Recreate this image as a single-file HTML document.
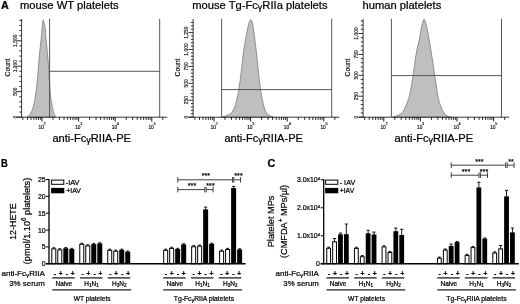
<!DOCTYPE html>
<html lang="en">
<head>
<meta charset="utf-8">
<title>Figure: FcγRIIA platelets</title>
<style>
html,body{margin:0;padding:0;background:#fff;}
body{width:520px;height:304px;overflow:hidden;}
svg{display:block;font-family:'Liberation Sans', Arial, Helvetica, sans-serif;}
text{stroke:#000;stroke-width:0.22px;}
text.s{stroke-width:0.15px;}
</style>
</head>
<body>
<svg width="520" height="304" viewBox="0 0 520 304">
<rect x="0" y="0" width="520" height="304" fill="#fff"/>
<text transform="translate(1 9) scale(1.0487 1)" font-size="10.3" font-weight="bold" fill="#000">A</text>
<path d="M27.1,117.2 C27.43,116.9 28.51,116.07 29.1,115.4 C29.69,114.73 30.07,114.23 30.65,113.2 C31.23,112.17 32.01,110.92 32.6,109.2 C33.19,107.48 33.7,105.27 34.2,102.9 C34.7,100.53 35.1,98.48 35.6,95 C36.1,91.52 36.73,86.5 37.2,82 C37.67,77.5 38.02,72.67 38.4,68 C38.78,63.33 39.05,58.67 39.5,54 C39.95,49.33 40.67,44.37 41.1,40 C41.53,35.63 41.82,30.83 42.1,27.8 C42.38,24.77 42.62,23.15 42.8,21.8 C42.97,20.45 43,19.7 43.15,19.7 C43.3,19.7 43.38,20.45 43.7,21.8 C44.03,23.15 44.7,24.77 45.1,27.8 C45.5,30.83 45.73,35.97 46.1,40 C46.47,44.03 46.9,47.67 47.3,52 C47.7,56.33 48.13,61 48.5,66 C48.87,71 49.18,77.17 49.5,82 C49.82,86.83 50.05,91.52 50.4,95 C50.75,98.48 51.21,100.53 51.6,102.9 C51.99,105.27 52.37,107.48 52.75,109.2 C53.13,110.92 53.56,112.13 53.9,113.2 C54.24,114.27 54.45,114.93 54.8,115.6 C55.15,116.27 55.8,116.93 56,117.2 Z" fill="#bfbfbf" stroke="#858585" stroke-width="0.9" stroke-linejoin="round"/>
<line x1="49.6" y1="18.7" x2="49.6" y2="117.2" stroke="#454545" stroke-width="0.9"/>
<line x1="159.7" y1="18.7" x2="159.7" y2="117.2" stroke="#454545" stroke-width="0.9"/>
<line x1="49.6" y1="71.3" x2="159.7" y2="71.3" stroke="#454545" stroke-width="0.9"/>
<line x1="21.6" y1="19" x2="21.6" y2="117.6" stroke="#222" stroke-width="0.9"/>
<line x1="17.1" y1="117.2" x2="167.3" y2="117.2" stroke="#222" stroke-width="0.9"/>
<line x1="16.9" y1="117.1" x2="21.6" y2="117.1" stroke="#111" stroke-width="0.85"/>
<line x1="19.3" y1="112.01" x2="21.6" y2="112.01" stroke="#111" stroke-width="0.85"/>
<line x1="19.3" y1="106.92" x2="21.6" y2="106.92" stroke="#111" stroke-width="0.85"/>
<line x1="19.3" y1="101.83" x2="21.6" y2="101.83" stroke="#111" stroke-width="0.85"/>
<line x1="19.3" y1="96.74" x2="21.6" y2="96.74" stroke="#111" stroke-width="0.85"/>
<line x1="16.9" y1="91.65" x2="21.6" y2="91.65" stroke="#111" stroke-width="0.85"/>
<line x1="19.3" y1="86.56" x2="21.6" y2="86.56" stroke="#111" stroke-width="0.85"/>
<line x1="19.3" y1="81.47" x2="21.6" y2="81.47" stroke="#111" stroke-width="0.85"/>
<line x1="19.3" y1="76.38" x2="21.6" y2="76.38" stroke="#111" stroke-width="0.85"/>
<line x1="19.3" y1="71.29" x2="21.6" y2="71.29" stroke="#111" stroke-width="0.85"/>
<line x1="16.9" y1="66.2" x2="21.6" y2="66.2" stroke="#111" stroke-width="0.85"/>
<line x1="19.3" y1="61.11" x2="21.6" y2="61.11" stroke="#111" stroke-width="0.85"/>
<line x1="19.3" y1="56.02" x2="21.6" y2="56.02" stroke="#111" stroke-width="0.85"/>
<line x1="19.3" y1="50.93" x2="21.6" y2="50.93" stroke="#111" stroke-width="0.85"/>
<line x1="19.3" y1="45.84" x2="21.6" y2="45.84" stroke="#111" stroke-width="0.85"/>
<line x1="16.9" y1="40.75" x2="21.6" y2="40.75" stroke="#111" stroke-width="0.85"/>
<line x1="19.3" y1="35.66" x2="21.6" y2="35.66" stroke="#111" stroke-width="0.85"/>
<line x1="19.3" y1="30.57" x2="21.6" y2="30.57" stroke="#111" stroke-width="0.85"/>
<line x1="19.3" y1="25.48" x2="21.6" y2="25.48" stroke="#111" stroke-width="0.85"/>
<line x1="19.3" y1="20.39" x2="21.6" y2="20.39" stroke="#111" stroke-width="0.85"/>
<text transform="translate(16.6 117.1) rotate(-90)" font-size="4.9" text-anchor="middle" fill="#111" class="s">0</text>
<text transform="translate(16.6 91.65) rotate(-90)" font-size="4.9" text-anchor="middle" fill="#111" class="s">500</text>
<text transform="translate(16.6 66.2) rotate(-90)" font-size="4.9" text-anchor="middle" fill="#111" class="s">1,000</text>
<text transform="translate(16.6 40.75) rotate(-90)" font-size="4.9" text-anchor="middle" fill="#111" class="s">1,500</text>
<text transform="translate(9.6 67.5) rotate(-90) scale(1.0222 1)" font-size="6.6" text-anchor="middle" fill="#000" class="s">Count</text>
<line x1="22.86" y1="117.2" x2="22.86" y2="119.9" stroke="#000" stroke-width="0.85"/>
<line x1="27.44" y1="117.2" x2="27.44" y2="119.9" stroke="#000" stroke-width="0.85"/>
<line x1="30.98" y1="117.2" x2="30.98" y2="119.9" stroke="#000" stroke-width="0.85"/>
<line x1="33.88" y1="117.2" x2="33.88" y2="119.9" stroke="#000" stroke-width="0.85"/>
<line x1="36.33" y1="117.2" x2="36.33" y2="119.9" stroke="#000" stroke-width="0.85"/>
<line x1="38.45" y1="117.2" x2="38.45" y2="119.9" stroke="#000" stroke-width="0.85"/>
<line x1="40.33" y1="117.2" x2="40.33" y2="119.9" stroke="#000" stroke-width="0.85"/>
<line x1="42" y1="117.2" x2="42" y2="121.5" stroke="#000" stroke-width="0.9"/>
<line x1="53.02" y1="117.2" x2="53.02" y2="119.9" stroke="#000" stroke-width="0.85"/>
<line x1="59.46" y1="117.2" x2="59.46" y2="119.9" stroke="#000" stroke-width="0.85"/>
<line x1="64.04" y1="117.2" x2="64.04" y2="119.9" stroke="#000" stroke-width="0.85"/>
<line x1="67.58" y1="117.2" x2="67.58" y2="119.9" stroke="#000" stroke-width="0.85"/>
<line x1="70.48" y1="117.2" x2="70.48" y2="119.9" stroke="#000" stroke-width="0.85"/>
<line x1="72.93" y1="117.2" x2="72.93" y2="119.9" stroke="#000" stroke-width="0.85"/>
<line x1="75.05" y1="117.2" x2="75.05" y2="119.9" stroke="#000" stroke-width="0.85"/>
<line x1="76.93" y1="117.2" x2="76.93" y2="119.9" stroke="#000" stroke-width="0.85"/>
<line x1="78.6" y1="117.2" x2="78.6" y2="121.5" stroke="#000" stroke-width="0.9"/>
<line x1="89.62" y1="117.2" x2="89.62" y2="119.9" stroke="#000" stroke-width="0.85"/>
<line x1="96.06" y1="117.2" x2="96.06" y2="119.9" stroke="#000" stroke-width="0.85"/>
<line x1="100.64" y1="117.2" x2="100.64" y2="119.9" stroke="#000" stroke-width="0.85"/>
<line x1="104.18" y1="117.2" x2="104.18" y2="119.9" stroke="#000" stroke-width="0.85"/>
<line x1="107.08" y1="117.2" x2="107.08" y2="119.9" stroke="#000" stroke-width="0.85"/>
<line x1="109.53" y1="117.2" x2="109.53" y2="119.9" stroke="#000" stroke-width="0.85"/>
<line x1="111.65" y1="117.2" x2="111.65" y2="119.9" stroke="#000" stroke-width="0.85"/>
<line x1="113.53" y1="117.2" x2="113.53" y2="119.9" stroke="#000" stroke-width="0.85"/>
<line x1="115.2" y1="117.2" x2="115.2" y2="121.5" stroke="#000" stroke-width="0.9"/>
<line x1="126.22" y1="117.2" x2="126.22" y2="119.9" stroke="#000" stroke-width="0.85"/>
<line x1="132.66" y1="117.2" x2="132.66" y2="119.9" stroke="#000" stroke-width="0.85"/>
<line x1="137.24" y1="117.2" x2="137.24" y2="119.9" stroke="#000" stroke-width="0.85"/>
<line x1="140.78" y1="117.2" x2="140.78" y2="119.9" stroke="#000" stroke-width="0.85"/>
<line x1="143.68" y1="117.2" x2="143.68" y2="119.9" stroke="#000" stroke-width="0.85"/>
<line x1="146.13" y1="117.2" x2="146.13" y2="119.9" stroke="#000" stroke-width="0.85"/>
<line x1="148.25" y1="117.2" x2="148.25" y2="119.9" stroke="#000" stroke-width="0.85"/>
<line x1="150.13" y1="117.2" x2="150.13" y2="119.9" stroke="#000" stroke-width="0.85"/>
<line x1="151.8" y1="117.2" x2="151.8" y2="121.5" stroke="#000" stroke-width="0.9"/>
<line x1="162.82" y1="117.2" x2="162.82" y2="119.9" stroke="#000" stroke-width="0.85"/>
<text transform="translate(38.6 128.6)" font-size="4.8" fill="#111" class="s">10</text>
<text transform="translate(43.6 125.4)" font-size="3.8" fill="#111" class="s">2</text>
<text transform="translate(75.2 128.6)" font-size="4.8" fill="#111" class="s">10</text>
<text transform="translate(80.2 125.4)" font-size="3.8" fill="#111" class="s">3</text>
<text transform="translate(111.8 128.6)" font-size="4.8" fill="#111" class="s">10</text>
<text transform="translate(116.8 125.4)" font-size="3.8" fill="#111" class="s">4</text>
<text transform="translate(148.4 128.6)" font-size="4.8" fill="#111" class="s">10</text>
<text transform="translate(153.4 125.4)" font-size="3.8" fill="#111" class="s">5</text>
<text transform="translate(20 9) scale(1.0659 1)" font-size="10.5" fill="#000">mouse WT platelets</text>
<text transform="translate(52.4 141.8) scale(1.0696 1)" font-size="10.4" fill="#000">anti-Fc<tspan font-size="8.4" dy="1.5">γ</tspan><tspan dy="-1.5">RIIA-PE</tspan></text>
<path d="M221.5,117.2 C221.92,117.08 223.08,116.8 224,116.5 C224.92,116.2 225.87,115.9 227,115.4 C228.13,114.9 229.8,114.3 230.8,113.5 C231.8,112.7 232.35,111.72 233,110.6 C233.65,109.48 234.15,108.23 234.7,106.8 C235.25,105.37 235.78,103.97 236.3,102 C236.82,100.03 237.38,97.07 237.8,95 C238.22,92.93 238.27,93.1 238.8,89.6 C239.33,86.1 240.3,79.6 241,74 C241.7,68.4 242.47,60.33 243,56 C243.53,51.67 243.62,51.67 244.2,48 C244.78,44.33 245.73,38 246.5,34 C247.27,30 248.1,26.38 248.8,24 C249.5,21.62 250.07,19.7 250.7,19.7 C251.33,19.7 251.95,20.95 252.6,24 C253.25,27.05 253.9,32.67 254.6,38 C255.3,43.33 256.13,50 256.8,56 C257.47,62 257.97,68.4 258.6,74 C259.23,79.6 260.13,86.1 260.6,89.6 C261.07,93.1 261,92.78 261.4,95 C261.8,97.22 262.33,100.27 263,102.9 C263.67,105.53 264.73,109.07 265.4,110.8 C266.07,112.53 266.48,112.63 267,113.3 C267.52,113.97 267.92,114.33 268.5,114.8 C269.08,115.27 269.67,115.7 270.5,116.1 C271.33,116.5 273,117.02 273.5,117.2 Z" fill="#bfbfbf" stroke="#858585" stroke-width="0.9" stroke-linejoin="round"/>
<line x1="221.6" y1="18.7" x2="221.6" y2="117.2" stroke="#454545" stroke-width="0.9"/>
<line x1="331.7" y1="18.7" x2="331.7" y2="117.2" stroke="#454545" stroke-width="0.9"/>
<line x1="221.6" y1="89.6" x2="331.7" y2="89.6" stroke="#454545" stroke-width="0.9"/>
<line x1="193.15" y1="19" x2="193.15" y2="117.6" stroke="#222" stroke-width="0.9"/>
<line x1="188.65" y1="117.2" x2="339.3" y2="117.2" stroke="#222" stroke-width="0.9"/>
<line x1="188.45" y1="117.1" x2="193.15" y2="117.1" stroke="#111" stroke-width="0.85"/>
<line x1="190.85" y1="113.72" x2="193.15" y2="113.72" stroke="#111" stroke-width="0.85"/>
<line x1="190.85" y1="110.34" x2="193.15" y2="110.34" stroke="#111" stroke-width="0.85"/>
<line x1="190.85" y1="106.96" x2="193.15" y2="106.96" stroke="#111" stroke-width="0.85"/>
<line x1="190.85" y1="103.58" x2="193.15" y2="103.58" stroke="#111" stroke-width="0.85"/>
<line x1="188.45" y1="100.2" x2="193.15" y2="100.2" stroke="#111" stroke-width="0.85"/>
<line x1="190.85" y1="96.82" x2="193.15" y2="96.82" stroke="#111" stroke-width="0.85"/>
<line x1="190.85" y1="93.44" x2="193.15" y2="93.44" stroke="#111" stroke-width="0.85"/>
<line x1="190.85" y1="90.06" x2="193.15" y2="90.06" stroke="#111" stroke-width="0.85"/>
<line x1="190.85" y1="86.68" x2="193.15" y2="86.68" stroke="#111" stroke-width="0.85"/>
<line x1="188.45" y1="83.3" x2="193.15" y2="83.3" stroke="#111" stroke-width="0.85"/>
<line x1="190.85" y1="79.92" x2="193.15" y2="79.92" stroke="#111" stroke-width="0.85"/>
<line x1="190.85" y1="76.54" x2="193.15" y2="76.54" stroke="#111" stroke-width="0.85"/>
<line x1="190.85" y1="73.16" x2="193.15" y2="73.16" stroke="#111" stroke-width="0.85"/>
<line x1="190.85" y1="69.78" x2="193.15" y2="69.78" stroke="#111" stroke-width="0.85"/>
<line x1="188.45" y1="66.4" x2="193.15" y2="66.4" stroke="#111" stroke-width="0.85"/>
<line x1="190.85" y1="63.02" x2="193.15" y2="63.02" stroke="#111" stroke-width="0.85"/>
<line x1="190.85" y1="59.64" x2="193.15" y2="59.64" stroke="#111" stroke-width="0.85"/>
<line x1="190.85" y1="56.26" x2="193.15" y2="56.26" stroke="#111" stroke-width="0.85"/>
<line x1="190.85" y1="52.88" x2="193.15" y2="52.88" stroke="#111" stroke-width="0.85"/>
<line x1="188.45" y1="49.5" x2="193.15" y2="49.5" stroke="#111" stroke-width="0.85"/>
<line x1="190.85" y1="46.12" x2="193.15" y2="46.12" stroke="#111" stroke-width="0.85"/>
<line x1="190.85" y1="42.74" x2="193.15" y2="42.74" stroke="#111" stroke-width="0.85"/>
<line x1="190.85" y1="39.36" x2="193.15" y2="39.36" stroke="#111" stroke-width="0.85"/>
<line x1="190.85" y1="35.98" x2="193.15" y2="35.98" stroke="#111" stroke-width="0.85"/>
<line x1="188.45" y1="32.6" x2="193.15" y2="32.6" stroke="#111" stroke-width="0.85"/>
<line x1="190.85" y1="29.22" x2="193.15" y2="29.22" stroke="#111" stroke-width="0.85"/>
<line x1="190.85" y1="25.84" x2="193.15" y2="25.84" stroke="#111" stroke-width="0.85"/>
<line x1="190.85" y1="22.46" x2="193.15" y2="22.46" stroke="#111" stroke-width="0.85"/>
<text transform="translate(188.15 117.1) rotate(-90)" font-size="4.9" text-anchor="middle" fill="#111" class="s">0</text>
<text transform="translate(188.15 100.2) rotate(-90)" font-size="4.9" text-anchor="middle" fill="#111" class="s">250</text>
<text transform="translate(188.15 83.3) rotate(-90)" font-size="4.9" text-anchor="middle" fill="#111" class="s">500</text>
<text transform="translate(188.15 66.4) rotate(-90)" font-size="4.9" text-anchor="middle" fill="#111" class="s">750</text>
<text transform="translate(188.15 49.5) rotate(-90)" font-size="4.9" text-anchor="middle" fill="#111" class="s">1,000</text>
<text transform="translate(188.15 32.6) rotate(-90)" font-size="4.9" text-anchor="middle" fill="#111" class="s">1,250</text>
<text transform="translate(179.6 67.5) rotate(-90) scale(1.0222 1)" font-size="6.6" text-anchor="middle" fill="#000" class="s">Count</text>
<line x1="194.86" y1="117.2" x2="194.86" y2="119.9" stroke="#000" stroke-width="0.85"/>
<line x1="199.44" y1="117.2" x2="199.44" y2="119.9" stroke="#000" stroke-width="0.85"/>
<line x1="202.98" y1="117.2" x2="202.98" y2="119.9" stroke="#000" stroke-width="0.85"/>
<line x1="205.88" y1="117.2" x2="205.88" y2="119.9" stroke="#000" stroke-width="0.85"/>
<line x1="208.33" y1="117.2" x2="208.33" y2="119.9" stroke="#000" stroke-width="0.85"/>
<line x1="210.45" y1="117.2" x2="210.45" y2="119.9" stroke="#000" stroke-width="0.85"/>
<line x1="212.33" y1="117.2" x2="212.33" y2="119.9" stroke="#000" stroke-width="0.85"/>
<line x1="214" y1="117.2" x2="214" y2="121.5" stroke="#000" stroke-width="0.9"/>
<line x1="225.02" y1="117.2" x2="225.02" y2="119.9" stroke="#000" stroke-width="0.85"/>
<line x1="231.46" y1="117.2" x2="231.46" y2="119.9" stroke="#000" stroke-width="0.85"/>
<line x1="236.04" y1="117.2" x2="236.04" y2="119.9" stroke="#000" stroke-width="0.85"/>
<line x1="239.58" y1="117.2" x2="239.58" y2="119.9" stroke="#000" stroke-width="0.85"/>
<line x1="242.48" y1="117.2" x2="242.48" y2="119.9" stroke="#000" stroke-width="0.85"/>
<line x1="244.93" y1="117.2" x2="244.93" y2="119.9" stroke="#000" stroke-width="0.85"/>
<line x1="247.05" y1="117.2" x2="247.05" y2="119.9" stroke="#000" stroke-width="0.85"/>
<line x1="248.93" y1="117.2" x2="248.93" y2="119.9" stroke="#000" stroke-width="0.85"/>
<line x1="250.6" y1="117.2" x2="250.6" y2="121.5" stroke="#000" stroke-width="0.9"/>
<line x1="261.62" y1="117.2" x2="261.62" y2="119.9" stroke="#000" stroke-width="0.85"/>
<line x1="268.06" y1="117.2" x2="268.06" y2="119.9" stroke="#000" stroke-width="0.85"/>
<line x1="272.64" y1="117.2" x2="272.64" y2="119.9" stroke="#000" stroke-width="0.85"/>
<line x1="276.18" y1="117.2" x2="276.18" y2="119.9" stroke="#000" stroke-width="0.85"/>
<line x1="279.08" y1="117.2" x2="279.08" y2="119.9" stroke="#000" stroke-width="0.85"/>
<line x1="281.53" y1="117.2" x2="281.53" y2="119.9" stroke="#000" stroke-width="0.85"/>
<line x1="283.65" y1="117.2" x2="283.65" y2="119.9" stroke="#000" stroke-width="0.85"/>
<line x1="285.53" y1="117.2" x2="285.53" y2="119.9" stroke="#000" stroke-width="0.85"/>
<line x1="287.2" y1="117.2" x2="287.2" y2="121.5" stroke="#000" stroke-width="0.9"/>
<line x1="298.22" y1="117.2" x2="298.22" y2="119.9" stroke="#000" stroke-width="0.85"/>
<line x1="304.66" y1="117.2" x2="304.66" y2="119.9" stroke="#000" stroke-width="0.85"/>
<line x1="309.24" y1="117.2" x2="309.24" y2="119.9" stroke="#000" stroke-width="0.85"/>
<line x1="312.78" y1="117.2" x2="312.78" y2="119.9" stroke="#000" stroke-width="0.85"/>
<line x1="315.68" y1="117.2" x2="315.68" y2="119.9" stroke="#000" stroke-width="0.85"/>
<line x1="318.13" y1="117.2" x2="318.13" y2="119.9" stroke="#000" stroke-width="0.85"/>
<line x1="320.25" y1="117.2" x2="320.25" y2="119.9" stroke="#000" stroke-width="0.85"/>
<line x1="322.13" y1="117.2" x2="322.13" y2="119.9" stroke="#000" stroke-width="0.85"/>
<line x1="323.8" y1="117.2" x2="323.8" y2="121.5" stroke="#000" stroke-width="0.9"/>
<line x1="334.82" y1="117.2" x2="334.82" y2="119.9" stroke="#000" stroke-width="0.85"/>
<text transform="translate(210.6 128.6)" font-size="4.8" fill="#111" class="s">10</text>
<text transform="translate(215.6 125.4)" font-size="3.8" fill="#111" class="s">2</text>
<text transform="translate(247.2 128.6)" font-size="4.8" fill="#111" class="s">10</text>
<text transform="translate(252.2 125.4)" font-size="3.8" fill="#111" class="s">3</text>
<text transform="translate(283.8 128.6)" font-size="4.8" fill="#111" class="s">10</text>
<text transform="translate(288.8 125.4)" font-size="3.8" fill="#111" class="s">4</text>
<text transform="translate(320.4 128.6)" font-size="4.8" fill="#111" class="s">10</text>
<text transform="translate(325.4 125.4)" font-size="3.8" fill="#111" class="s">5</text>
<text transform="translate(192.3 9) scale(1.0643 1)" font-size="10.5" fill="#000">mouse Tg-Fc<tspan font-size="8.5" dy="1.4">γ</tspan><tspan dy="-1.4">RIIa platelets</tspan></text>
<text transform="translate(224.4 141.8) scale(1.0696 1)" font-size="10.4" fill="#000">anti-Fc<tspan font-size="8.4" dy="1.5">γ</tspan><tspan dy="-1.5">RIIA-PE</tspan></text>
<path d="M392.5,117.2 C393.22,116.98 395.42,116.45 396.8,115.9 C398.18,115.35 399.68,114.75 400.8,113.9 C401.92,113.05 402.45,112.63 403.5,110.8 C404.55,108.97 406.07,105.53 407.1,102.9 C408.13,100.27 408.88,98.48 409.7,95 C410.52,91.52 411.43,85.23 412,82 C412.57,78.77 412.6,78.93 413.1,75.6 C413.6,72.27 414.37,66.27 415,62 C415.63,57.73 416.18,53.67 416.9,50 C417.62,46.33 418.55,43.67 419.3,40 C420.05,36.33 420.8,31 421.4,28 C422,25 422.45,23.47 422.9,22 C423.35,20.53 423.7,19.2 424.1,19.2 C424.5,19.2 424.83,20.53 425.3,22 C425.77,23.47 426.25,25 426.9,28 C427.55,31 428.55,36.33 429.2,40 C429.85,43.67 430.2,46.33 430.8,50 C431.4,53.67 432.15,57.73 432.8,62 C433.45,66.27 434.2,72.27 434.7,75.6 C435.2,78.93 435.3,78.77 435.8,82 C436.3,85.23 437.07,91.52 437.7,95 C438.33,98.48 438.75,100.27 439.6,102.9 C440.45,105.53 441.82,108.83 442.8,110.8 C443.78,112.77 444.63,113.78 445.5,114.7 C446.37,115.62 447.08,115.88 448,116.3 C448.92,116.72 450.5,117.05 451,117.2 Z" fill="#bfbfbf" stroke="#858585" stroke-width="0.9" stroke-linejoin="round"/>
<line x1="391.4" y1="18.7" x2="391.4" y2="117.2" stroke="#454545" stroke-width="0.9"/>
<line x1="501.5" y1="18.7" x2="501.5" y2="117.2" stroke="#454545" stroke-width="0.9"/>
<line x1="391.4" y1="75.6" x2="501.5" y2="75.6" stroke="#454545" stroke-width="0.9"/>
<line x1="363.1" y1="19" x2="363.1" y2="117.6" stroke="#222" stroke-width="0.9"/>
<line x1="358.6" y1="117.2" x2="509.1" y2="117.2" stroke="#222" stroke-width="0.9"/>
<line x1="358.4" y1="117.1" x2="363.1" y2="117.1" stroke="#111" stroke-width="0.85"/>
<line x1="360.8" y1="112.92" x2="363.1" y2="112.92" stroke="#111" stroke-width="0.85"/>
<line x1="360.8" y1="108.74" x2="363.1" y2="108.74" stroke="#111" stroke-width="0.85"/>
<line x1="360.8" y1="104.56" x2="363.1" y2="104.56" stroke="#111" stroke-width="0.85"/>
<line x1="360.8" y1="100.38" x2="363.1" y2="100.38" stroke="#111" stroke-width="0.85"/>
<line x1="358.4" y1="96.2" x2="363.1" y2="96.2" stroke="#111" stroke-width="0.85"/>
<line x1="360.8" y1="92.02" x2="363.1" y2="92.02" stroke="#111" stroke-width="0.85"/>
<line x1="360.8" y1="87.84" x2="363.1" y2="87.84" stroke="#111" stroke-width="0.85"/>
<line x1="360.8" y1="83.66" x2="363.1" y2="83.66" stroke="#111" stroke-width="0.85"/>
<line x1="360.8" y1="79.48" x2="363.1" y2="79.48" stroke="#111" stroke-width="0.85"/>
<line x1="358.4" y1="75.3" x2="363.1" y2="75.3" stroke="#111" stroke-width="0.85"/>
<line x1="360.8" y1="71.12" x2="363.1" y2="71.12" stroke="#111" stroke-width="0.85"/>
<line x1="360.8" y1="66.94" x2="363.1" y2="66.94" stroke="#111" stroke-width="0.85"/>
<line x1="360.8" y1="62.76" x2="363.1" y2="62.76" stroke="#111" stroke-width="0.85"/>
<line x1="360.8" y1="58.58" x2="363.1" y2="58.58" stroke="#111" stroke-width="0.85"/>
<line x1="358.4" y1="54.4" x2="363.1" y2="54.4" stroke="#111" stroke-width="0.85"/>
<line x1="360.8" y1="50.22" x2="363.1" y2="50.22" stroke="#111" stroke-width="0.85"/>
<line x1="360.8" y1="46.04" x2="363.1" y2="46.04" stroke="#111" stroke-width="0.85"/>
<line x1="360.8" y1="41.86" x2="363.1" y2="41.86" stroke="#111" stroke-width="0.85"/>
<line x1="360.8" y1="37.68" x2="363.1" y2="37.68" stroke="#111" stroke-width="0.85"/>
<line x1="358.4" y1="33.5" x2="363.1" y2="33.5" stroke="#111" stroke-width="0.85"/>
<line x1="360.8" y1="29.32" x2="363.1" y2="29.32" stroke="#111" stroke-width="0.85"/>
<line x1="360.8" y1="25.14" x2="363.1" y2="25.14" stroke="#111" stroke-width="0.85"/>
<line x1="360.8" y1="20.96" x2="363.1" y2="20.96" stroke="#111" stroke-width="0.85"/>
<text transform="translate(358.1 117.1) rotate(-90)" font-size="4.9" text-anchor="middle" fill="#111" class="s">0</text>
<text transform="translate(358.1 96.2) rotate(-90)" font-size="4.9" text-anchor="middle" fill="#111" class="s">250</text>
<text transform="translate(358.1 75.3) rotate(-90)" font-size="4.9" text-anchor="middle" fill="#111" class="s">500</text>
<text transform="translate(358.1 54.4) rotate(-90)" font-size="4.9" text-anchor="middle" fill="#111" class="s">750</text>
<text transform="translate(358.1 33.5) rotate(-90)" font-size="4.9" text-anchor="middle" fill="#111" class="s">1,000</text>
<text transform="translate(349.6 67.5) rotate(-90) scale(1.0222 1)" font-size="6.6" text-anchor="middle" fill="#000" class="s">Count</text>
<line x1="364.66" y1="117.2" x2="364.66" y2="119.9" stroke="#000" stroke-width="0.85"/>
<line x1="369.24" y1="117.2" x2="369.24" y2="119.9" stroke="#000" stroke-width="0.85"/>
<line x1="372.78" y1="117.2" x2="372.78" y2="119.9" stroke="#000" stroke-width="0.85"/>
<line x1="375.68" y1="117.2" x2="375.68" y2="119.9" stroke="#000" stroke-width="0.85"/>
<line x1="378.13" y1="117.2" x2="378.13" y2="119.9" stroke="#000" stroke-width="0.85"/>
<line x1="380.25" y1="117.2" x2="380.25" y2="119.9" stroke="#000" stroke-width="0.85"/>
<line x1="382.13" y1="117.2" x2="382.13" y2="119.9" stroke="#000" stroke-width="0.85"/>
<line x1="383.8" y1="117.2" x2="383.8" y2="121.5" stroke="#000" stroke-width="0.9"/>
<line x1="394.82" y1="117.2" x2="394.82" y2="119.9" stroke="#000" stroke-width="0.85"/>
<line x1="401.26" y1="117.2" x2="401.26" y2="119.9" stroke="#000" stroke-width="0.85"/>
<line x1="405.84" y1="117.2" x2="405.84" y2="119.9" stroke="#000" stroke-width="0.85"/>
<line x1="409.38" y1="117.2" x2="409.38" y2="119.9" stroke="#000" stroke-width="0.85"/>
<line x1="412.28" y1="117.2" x2="412.28" y2="119.9" stroke="#000" stroke-width="0.85"/>
<line x1="414.73" y1="117.2" x2="414.73" y2="119.9" stroke="#000" stroke-width="0.85"/>
<line x1="416.85" y1="117.2" x2="416.85" y2="119.9" stroke="#000" stroke-width="0.85"/>
<line x1="418.73" y1="117.2" x2="418.73" y2="119.9" stroke="#000" stroke-width="0.85"/>
<line x1="420.4" y1="117.2" x2="420.4" y2="121.5" stroke="#000" stroke-width="0.9"/>
<line x1="431.42" y1="117.2" x2="431.42" y2="119.9" stroke="#000" stroke-width="0.85"/>
<line x1="437.86" y1="117.2" x2="437.86" y2="119.9" stroke="#000" stroke-width="0.85"/>
<line x1="442.44" y1="117.2" x2="442.44" y2="119.9" stroke="#000" stroke-width="0.85"/>
<line x1="445.98" y1="117.2" x2="445.98" y2="119.9" stroke="#000" stroke-width="0.85"/>
<line x1="448.88" y1="117.2" x2="448.88" y2="119.9" stroke="#000" stroke-width="0.85"/>
<line x1="451.33" y1="117.2" x2="451.33" y2="119.9" stroke="#000" stroke-width="0.85"/>
<line x1="453.45" y1="117.2" x2="453.45" y2="119.9" stroke="#000" stroke-width="0.85"/>
<line x1="455.33" y1="117.2" x2="455.33" y2="119.9" stroke="#000" stroke-width="0.85"/>
<line x1="457" y1="117.2" x2="457" y2="121.5" stroke="#000" stroke-width="0.9"/>
<line x1="468.02" y1="117.2" x2="468.02" y2="119.9" stroke="#000" stroke-width="0.85"/>
<line x1="474.46" y1="117.2" x2="474.46" y2="119.9" stroke="#000" stroke-width="0.85"/>
<line x1="479.04" y1="117.2" x2="479.04" y2="119.9" stroke="#000" stroke-width="0.85"/>
<line x1="482.58" y1="117.2" x2="482.58" y2="119.9" stroke="#000" stroke-width="0.85"/>
<line x1="485.48" y1="117.2" x2="485.48" y2="119.9" stroke="#000" stroke-width="0.85"/>
<line x1="487.93" y1="117.2" x2="487.93" y2="119.9" stroke="#000" stroke-width="0.85"/>
<line x1="490.05" y1="117.2" x2="490.05" y2="119.9" stroke="#000" stroke-width="0.85"/>
<line x1="491.93" y1="117.2" x2="491.93" y2="119.9" stroke="#000" stroke-width="0.85"/>
<line x1="493.6" y1="117.2" x2="493.6" y2="121.5" stroke="#000" stroke-width="0.9"/>
<line x1="504.62" y1="117.2" x2="504.62" y2="119.9" stroke="#000" stroke-width="0.85"/>
<text transform="translate(380.4 128.6)" font-size="4.8" fill="#111" class="s">10</text>
<text transform="translate(385.4 125.4)" font-size="3.8" fill="#111" class="s">2</text>
<text transform="translate(417 128.6)" font-size="4.8" fill="#111" class="s">10</text>
<text transform="translate(422 125.4)" font-size="3.8" fill="#111" class="s">3</text>
<text transform="translate(453.6 128.6)" font-size="4.8" fill="#111" class="s">10</text>
<text transform="translate(458.6 125.4)" font-size="3.8" fill="#111" class="s">4</text>
<text transform="translate(490.2 128.6)" font-size="4.8" fill="#111" class="s">10</text>
<text transform="translate(495.2 125.4)" font-size="3.8" fill="#111" class="s">5</text>
<text transform="translate(362.5 9) scale(1.0628 1)" font-size="10.5" fill="#000">human platelets</text>
<text transform="translate(394.6 141.8) scale(1.0696 1)" font-size="10.4" fill="#000">anti-Fc<tspan font-size="8.4" dy="1.5">γ</tspan><tspan dy="-1.5">RIIA-PE</tspan></text>
<line x1="53.8" y1="247.75" x2="53.8" y2="248.9" stroke="#000" stroke-width="0.9"/>
<line x1="52.4" y1="247.75" x2="55.2" y2="247.75" stroke="#000" stroke-width="0.9"/>
<rect x="51.8" y="248.9" width="4" height="14.85" fill="#fff" stroke="#000" stroke-width="1"/>
<line x1="59.8" y1="248.75" x2="59.8" y2="249.9" stroke="#000" stroke-width="0.9"/>
<line x1="58.4" y1="248.75" x2="61.2" y2="248.75" stroke="#000" stroke-width="0.9"/>
<rect x="57.8" y="249.9" width="4" height="13.85" fill="#fff" stroke="#000" stroke-width="1"/>
<line x1="65.8" y1="247.55" x2="65.8" y2="248.7" stroke="#000" stroke-width="0.9"/>
<line x1="64.4" y1="247.55" x2="67.2" y2="247.55" stroke="#000" stroke-width="0.9"/>
<rect x="63.3" y="248.2" width="5" height="15.55" fill="#000"/>
<line x1="71.8" y1="248.35" x2="71.8" y2="249.5" stroke="#000" stroke-width="0.9"/>
<line x1="70.4" y1="248.35" x2="73.2" y2="248.35" stroke="#000" stroke-width="0.9"/>
<rect x="69.3" y="249" width="5" height="14.75" fill="#000"/>
<line x1="81.77" y1="243.15" x2="81.77" y2="244.3" stroke="#000" stroke-width="0.9"/>
<line x1="80.37" y1="243.15" x2="83.17" y2="243.15" stroke="#000" stroke-width="0.9"/>
<rect x="79.77" y="244.3" width="4" height="19.45" fill="#fff" stroke="#000" stroke-width="1"/>
<line x1="87.77" y1="244.75" x2="87.77" y2="245.9" stroke="#000" stroke-width="0.9"/>
<line x1="86.37" y1="244.75" x2="89.17" y2="244.75" stroke="#000" stroke-width="0.9"/>
<rect x="85.77" y="245.9" width="4" height="17.85" fill="#fff" stroke="#000" stroke-width="1"/>
<line x1="93.77" y1="243.55" x2="93.77" y2="244.7" stroke="#000" stroke-width="0.9"/>
<line x1="92.37" y1="243.55" x2="95.17" y2="243.55" stroke="#000" stroke-width="0.9"/>
<rect x="91.27" y="244.2" width="5" height="19.55" fill="#000"/>
<line x1="99.77" y1="242.75" x2="99.77" y2="243.9" stroke="#000" stroke-width="0.9"/>
<line x1="98.37" y1="242.75" x2="101.17" y2="242.75" stroke="#000" stroke-width="0.9"/>
<rect x="97.27" y="243.4" width="5" height="20.35" fill="#000"/>
<line x1="109.74" y1="249.15" x2="109.74" y2="250.3" stroke="#000" stroke-width="0.9"/>
<line x1="108.34" y1="249.15" x2="111.14" y2="249.15" stroke="#000" stroke-width="0.9"/>
<rect x="107.74" y="250.3" width="4" height="13.45" fill="#fff" stroke="#000" stroke-width="1"/>
<line x1="115.74" y1="250.05" x2="115.74" y2="251.2" stroke="#000" stroke-width="0.9"/>
<line x1="114.34" y1="250.05" x2="117.14" y2="250.05" stroke="#000" stroke-width="0.9"/>
<rect x="113.74" y="251.2" width="4" height="12.55" fill="#fff" stroke="#000" stroke-width="1"/>
<line x1="121.74" y1="249.15" x2="121.74" y2="250.3" stroke="#000" stroke-width="0.9"/>
<line x1="120.34" y1="249.15" x2="123.14" y2="249.15" stroke="#000" stroke-width="0.9"/>
<rect x="119.24" y="249.8" width="5" height="13.95" fill="#000"/>
<line x1="127.74" y1="251.05" x2="127.74" y2="252.2" stroke="#000" stroke-width="0.9"/>
<line x1="126.34" y1="251.05" x2="129.14" y2="251.05" stroke="#000" stroke-width="0.9"/>
<rect x="125.24" y="251.7" width="5" height="12.05" fill="#000"/>
<line x1="165.68" y1="249.15" x2="165.68" y2="250.3" stroke="#000" stroke-width="0.9"/>
<line x1="164.28" y1="249.15" x2="167.08" y2="249.15" stroke="#000" stroke-width="0.9"/>
<rect x="163.68" y="250.3" width="4" height="13.45" fill="#fff" stroke="#000" stroke-width="1"/>
<line x1="171.68" y1="247.25" x2="171.68" y2="248.4" stroke="#000" stroke-width="0.9"/>
<line x1="170.28" y1="247.25" x2="173.08" y2="247.25" stroke="#000" stroke-width="0.9"/>
<rect x="169.68" y="248.4" width="4" height="15.35" fill="#fff" stroke="#000" stroke-width="1"/>
<line x1="177.68" y1="248.35" x2="177.68" y2="249.5" stroke="#000" stroke-width="0.9"/>
<line x1="176.28" y1="248.35" x2="179.08" y2="248.35" stroke="#000" stroke-width="0.9"/>
<rect x="175.18" y="249" width="5" height="14.75" fill="#000"/>
<line x1="183.68" y1="243.75" x2="183.68" y2="244.9" stroke="#000" stroke-width="0.9"/>
<line x1="182.28" y1="243.75" x2="185.08" y2="243.75" stroke="#000" stroke-width="0.9"/>
<rect x="181.18" y="244.4" width="5" height="19.35" fill="#000"/>
<line x1="193.65" y1="245.65" x2="193.65" y2="246.8" stroke="#000" stroke-width="0.9"/>
<line x1="192.25" y1="245.65" x2="195.05" y2="245.65" stroke="#000" stroke-width="0.9"/>
<rect x="191.65" y="246.8" width="4" height="16.95" fill="#fff" stroke="#000" stroke-width="1"/>
<line x1="199.65" y1="245.05" x2="199.65" y2="246.2" stroke="#000" stroke-width="0.9"/>
<line x1="198.25" y1="245.05" x2="201.05" y2="245.05" stroke="#000" stroke-width="0.9"/>
<rect x="197.65" y="246.2" width="4" height="17.55" fill="#fff" stroke="#000" stroke-width="1"/>
<line x1="205.65" y1="207.1" x2="205.65" y2="209.9" stroke="#000" stroke-width="0.9"/>
<line x1="204.05" y1="207.1" x2="207.25" y2="207.1" stroke="#000" stroke-width="0.9"/>
<rect x="203.15" y="209.4" width="5" height="54.35" fill="#000"/>
<line x1="211.65" y1="243.15" x2="211.65" y2="244.3" stroke="#000" stroke-width="0.9"/>
<line x1="210.25" y1="243.15" x2="213.05" y2="243.15" stroke="#000" stroke-width="0.9"/>
<rect x="209.15" y="243.8" width="5" height="19.95" fill="#000"/>
<line x1="221.62" y1="250.05" x2="221.62" y2="251.2" stroke="#000" stroke-width="0.9"/>
<line x1="220.22" y1="250.05" x2="223.02" y2="250.05" stroke="#000" stroke-width="0.9"/>
<rect x="219.62" y="251.2" width="4" height="12.55" fill="#fff" stroke="#000" stroke-width="1"/>
<line x1="227.62" y1="248.35" x2="227.62" y2="249.5" stroke="#000" stroke-width="0.9"/>
<line x1="226.22" y1="248.35" x2="229.02" y2="248.35" stroke="#000" stroke-width="0.9"/>
<rect x="225.62" y="249.5" width="4" height="14.25" fill="#fff" stroke="#000" stroke-width="1"/>
<line x1="233.62" y1="186.5" x2="233.62" y2="188.6" stroke="#000" stroke-width="0.9"/>
<line x1="232.02" y1="186.5" x2="235.22" y2="186.5" stroke="#000" stroke-width="0.9"/>
<rect x="231.12" y="188.1" width="5" height="75.65" fill="#000"/>
<line x1="239.62" y1="248.75" x2="239.62" y2="249.9" stroke="#000" stroke-width="0.9"/>
<line x1="238.22" y1="248.75" x2="241.02" y2="248.75" stroke="#000" stroke-width="0.9"/>
<rect x="237.12" y="249.4" width="5" height="14.35" fill="#000"/>
<line x1="49" y1="179.1" x2="49" y2="264.35" stroke="#000" stroke-width="1.3"/>
<line x1="46" y1="263.75" x2="245.6" y2="263.75" stroke="#000" stroke-width="1.3"/>
<line x1="46" y1="263.75" x2="49" y2="263.75" stroke="#000" stroke-width="1"/>
<text transform="translate(45.7 266.2)" font-size="6.9" text-anchor="end" fill="#000">0</text>
<line x1="46" y1="246.9" x2="49" y2="246.9" stroke="#000" stroke-width="1"/>
<text transform="translate(45.7 249.35)" font-size="6.9" text-anchor="end" fill="#000">5</text>
<line x1="46" y1="230.05" x2="49" y2="230.05" stroke="#000" stroke-width="1"/>
<text transform="translate(45.7 232.5)" font-size="6.9" text-anchor="end" fill="#000">10</text>
<line x1="46" y1="213.2" x2="49" y2="213.2" stroke="#000" stroke-width="1"/>
<text transform="translate(45.7 215.65)" font-size="6.9" text-anchor="end" fill="#000">15</text>
<line x1="46" y1="196.35" x2="49" y2="196.35" stroke="#000" stroke-width="1"/>
<text transform="translate(45.7 198.8)" font-size="6.9" text-anchor="end" fill="#000">20</text>
<line x1="46" y1="179.5" x2="49" y2="179.5" stroke="#000" stroke-width="1"/>
<text transform="translate(45.7 181.95)" font-size="6.9" text-anchor="end" fill="#000">25</text>
<rect x="51.6" y="180.1" width="12.2" height="4.2" fill="#fff" stroke="#000" stroke-width="1"/>
<rect x="51.1" y="187.9" width="13.2" height="5.4" fill="#000"/>
<text transform="translate(65.7 184.5) scale(1.0850 1)" font-size="6.8" fill="#000">-IAV</text>
<text transform="translate(66.3 193.1) scale(1.0124 1)" font-size="6.8" fill="#000">+IAV</text>
<line x1="177.8" y1="179.8" x2="232.5" y2="179.8" stroke="#2b2b2b" stroke-width="0.9"/>
<line x1="177.8" y1="177" x2="177.8" y2="182.6" stroke="#2b2b2b" stroke-width="0.9"/>
<line x1="232.5" y1="177" x2="232.5" y2="182.6" stroke="#2b2b2b" stroke-width="0.9"/>
<text transform="translate(205.9 177.85)" font-size="7.1" text-anchor="middle" fill="#000">***</text>
<line x1="233.8" y1="179.8" x2="240.6" y2="179.8" stroke="#2b2b2b" stroke-width="0.9"/>
<line x1="233.8" y1="177" x2="233.8" y2="182.6" stroke="#2b2b2b" stroke-width="0.9"/>
<line x1="240.6" y1="177" x2="240.6" y2="182.6" stroke="#2b2b2b" stroke-width="0.9"/>
<text transform="translate(238.5 177.85)" font-size="7.1" text-anchor="middle" fill="#000">***</text>
<line x1="177.8" y1="189.6" x2="204.8" y2="189.6" stroke="#2b2b2b" stroke-width="0.9"/>
<line x1="177.8" y1="186.8" x2="177.8" y2="192.4" stroke="#2b2b2b" stroke-width="0.9"/>
<line x1="204.8" y1="186.8" x2="204.8" y2="192.4" stroke="#2b2b2b" stroke-width="0.9"/>
<text transform="translate(192 188.45)" font-size="7.1" text-anchor="middle" fill="#000">***</text>
<line x1="206.2" y1="189.6" x2="213.1" y2="189.6" stroke="#2b2b2b" stroke-width="0.9"/>
<line x1="206.2" y1="186.8" x2="206.2" y2="192.4" stroke="#2b2b2b" stroke-width="0.9"/>
<line x1="213.1" y1="186.8" x2="213.1" y2="192.4" stroke="#2b2b2b" stroke-width="0.9"/>
<text transform="translate(210.5 188.45)" font-size="7.1" text-anchor="middle" fill="#000">***</text>
<text transform="translate(44.8 276.3) scale(1.0585 1)" font-size="7.6" text-anchor="end" fill="#000">anti-Fc<tspan font-size="6" dy="1.1">γ</tspan><tspan dy="-1.1">RIIA</tspan></text>
<text transform="translate(44.8 285.8) scale(1.0413 1)" font-size="7.6" text-anchor="end" fill="#000">3% serum</text>
<text transform="translate(54.75 275.7)" font-size="6.8" text-anchor="middle" font-weight="bold" fill="#000">-</text>
<text transform="translate(60.55 276.3)" font-size="6.6" text-anchor="middle" font-weight="bold" fill="#000">+</text>
<text transform="translate(66.85 275.7)" font-size="6.8" text-anchor="middle" font-weight="bold" fill="#000">-</text>
<text transform="translate(72.75 276.3)" font-size="6.6" text-anchor="middle" font-weight="bold" fill="#000">+</text>
<line x1="52.25" y1="277.9" x2="74.75" y2="277.9" stroke="#222" stroke-width="1.3"/>
<text transform="translate(63.85 286.1)" font-size="6.5" text-anchor="middle" fill="#000">Naive</text>
<text transform="translate(82.5 275.7)" font-size="6.8" text-anchor="middle" font-weight="bold" fill="#000">-</text>
<text transform="translate(88.3 276.3)" font-size="6.6" text-anchor="middle" font-weight="bold" fill="#000">+</text>
<text transform="translate(94.6 275.7)" font-size="6.8" text-anchor="middle" font-weight="bold" fill="#000">-</text>
<text transform="translate(100.5 276.3)" font-size="6.6" text-anchor="middle" font-weight="bold" fill="#000">+</text>
<line x1="80" y1="277.9" x2="102.5" y2="277.9" stroke="#222" stroke-width="1.3"/>
<text transform="translate(91.6 286.1)" font-size="6.5" text-anchor="middle" fill="#000">H<tspan font-size="4.6" dy="1.3">1</tspan><tspan dy="-1.3">N</tspan><tspan font-size="4.6" dy="1.3">1</tspan></text>
<text transform="translate(110.25 275.7)" font-size="6.8" text-anchor="middle" font-weight="bold" fill="#000">-</text>
<text transform="translate(116.05 276.3)" font-size="6.6" text-anchor="middle" font-weight="bold" fill="#000">+</text>
<text transform="translate(122.35 275.7)" font-size="6.8" text-anchor="middle" font-weight="bold" fill="#000">-</text>
<text transform="translate(128.25 276.3)" font-size="6.6" text-anchor="middle" font-weight="bold" fill="#000">+</text>
<line x1="107.75" y1="277.9" x2="130.25" y2="277.9" stroke="#222" stroke-width="1.3"/>
<text transform="translate(119.35 286.1)" font-size="6.5" text-anchor="middle" fill="#000">H<tspan font-size="4.6" dy="1.3">3</tspan><tspan dy="-1.3">N</tspan><tspan font-size="4.6" dy="1.3">2</tspan></text>
<text transform="translate(165.75 275.7)" font-size="6.8" text-anchor="middle" font-weight="bold" fill="#000">-</text>
<text transform="translate(171.55 276.3)" font-size="6.6" text-anchor="middle" font-weight="bold" fill="#000">+</text>
<text transform="translate(177.85 275.7)" font-size="6.8" text-anchor="middle" font-weight="bold" fill="#000">-</text>
<text transform="translate(183.75 276.3)" font-size="6.6" text-anchor="middle" font-weight="bold" fill="#000">+</text>
<line x1="163.25" y1="277.9" x2="185.75" y2="277.9" stroke="#222" stroke-width="1.3"/>
<text transform="translate(174.85 286.1)" font-size="6.5" text-anchor="middle" fill="#000">Naive</text>
<text transform="translate(193.5 275.7)" font-size="6.8" text-anchor="middle" font-weight="bold" fill="#000">-</text>
<text transform="translate(199.3 276.3)" font-size="6.6" text-anchor="middle" font-weight="bold" fill="#000">+</text>
<text transform="translate(205.6 275.7)" font-size="6.8" text-anchor="middle" font-weight="bold" fill="#000">-</text>
<text transform="translate(211.5 276.3)" font-size="6.6" text-anchor="middle" font-weight="bold" fill="#000">+</text>
<line x1="191" y1="277.9" x2="213.5" y2="277.9" stroke="#222" stroke-width="1.3"/>
<text transform="translate(202.6 286.1)" font-size="6.5" text-anchor="middle" fill="#000">H<tspan font-size="4.6" dy="1.3">1</tspan><tspan dy="-1.3">N</tspan><tspan font-size="4.6" dy="1.3">1</tspan></text>
<text transform="translate(221.25 275.7)" font-size="6.8" text-anchor="middle" font-weight="bold" fill="#000">-</text>
<text transform="translate(227.05 276.3)" font-size="6.6" text-anchor="middle" font-weight="bold" fill="#000">+</text>
<text transform="translate(233.35 275.7)" font-size="6.8" text-anchor="middle" font-weight="bold" fill="#000">-</text>
<text transform="translate(239.25 276.3)" font-size="6.6" text-anchor="middle" font-weight="bold" fill="#000">+</text>
<line x1="218.75" y1="277.9" x2="241.25" y2="277.9" stroke="#222" stroke-width="1.3"/>
<text transform="translate(230.35 286.1)" font-size="6.5" text-anchor="middle" fill="#000">H<tspan font-size="4.6" dy="1.3">3</tspan><tspan dy="-1.3">N</tspan><tspan font-size="4.6" dy="1.3">2</tspan></text>
<line x1="52.25" y1="289.8" x2="131.15" y2="289.8" stroke="#222" stroke-width="1.3"/>
<text transform="translate(92.2 300.9) scale(1.0101 1)" font-size="6.6" text-anchor="middle" fill="#000">WT platelets</text>
<line x1="163.25" y1="289.8" x2="242.15" y2="289.8" stroke="#222" stroke-width="1.3"/>
<text transform="translate(203.9 300.9) scale(1.0258 1)" font-size="6.6" text-anchor="middle" fill="#000">Tg-Fc<tspan font-size="5.4" dy="1">γ</tspan><tspan dy="-1">RIIA platelets</tspan></text>
<text transform="translate(15.7 221.6) rotate(-90) scale(0.9251 1)" font-size="9.6" text-anchor="middle" fill="#000">12-HETE</text>
<text transform="translate(29.8 221) rotate(-90) scale(0.9537 1)" font-size="9.6" text-anchor="middle" fill="#000">(pmol/1.10<tspan font-size="6.6" dy="-4.3">6</tspan><tspan dy="4.3"> platelets)</tspan></text>
<text transform="translate(1 166.8) scale(0.9143 1)" font-size="10.3" font-weight="bold" fill="#000">B</text>
<line x1="328.65" y1="247.15" x2="328.65" y2="248.3" stroke="#000" stroke-width="0.9"/>
<line x1="327.25" y1="247.15" x2="330.05" y2="247.15" stroke="#000" stroke-width="0.9"/>
<rect x="326.75" y="248.3" width="3.8" height="15.45" fill="#fff" stroke="#000" stroke-width="1"/>
<line x1="334.55" y1="238.5" x2="334.55" y2="241.8" stroke="#000" stroke-width="0.9"/>
<line x1="332.95" y1="238.5" x2="336.15" y2="238.5" stroke="#000" stroke-width="0.9"/>
<rect x="332.65" y="241.8" width="3.8" height="21.95" fill="#fff" stroke="#000" stroke-width="1"/>
<line x1="340.45" y1="233.1" x2="340.45" y2="234.9" stroke="#000" stroke-width="0.9"/>
<line x1="338.85" y1="233.1" x2="342.05" y2="233.1" stroke="#000" stroke-width="0.9"/>
<rect x="338.05" y="234.4" width="4.8" height="29.35" fill="#000"/>
<line x1="346.35" y1="224" x2="346.35" y2="234.7" stroke="#000" stroke-width="0.9"/>
<line x1="344.75" y1="224" x2="347.95" y2="224" stroke="#000" stroke-width="0.9"/>
<rect x="343.95" y="234.2" width="4.8" height="29.55" fill="#000"/>
<line x1="356.33" y1="247.25" x2="356.33" y2="248.4" stroke="#000" stroke-width="0.9"/>
<line x1="354.93" y1="247.25" x2="357.73" y2="247.25" stroke="#000" stroke-width="0.9"/>
<rect x="354.43" y="248.4" width="3.8" height="15.35" fill="#fff" stroke="#000" stroke-width="1"/>
<line x1="362.23" y1="255.55" x2="362.23" y2="256.7" stroke="#000" stroke-width="0.9"/>
<line x1="360.83" y1="255.55" x2="363.63" y2="255.55" stroke="#000" stroke-width="0.9"/>
<rect x="360.33" y="256.7" width="3.8" height="7.05" fill="#fff" stroke="#000" stroke-width="1"/>
<line x1="368.13" y1="230.3" x2="368.13" y2="233.8" stroke="#000" stroke-width="0.9"/>
<line x1="366.53" y1="230.3" x2="369.73" y2="230.3" stroke="#000" stroke-width="0.9"/>
<rect x="365.73" y="233.3" width="4.8" height="30.45" fill="#000"/>
<line x1="374.03" y1="232.1" x2="374.03" y2="235" stroke="#000" stroke-width="0.9"/>
<line x1="372.43" y1="232.1" x2="375.63" y2="232.1" stroke="#000" stroke-width="0.9"/>
<rect x="371.63" y="234.5" width="4.8" height="29.25" fill="#000"/>
<line x1="384.01" y1="245.75" x2="384.01" y2="246.9" stroke="#000" stroke-width="0.9"/>
<line x1="382.61" y1="245.75" x2="385.41" y2="245.75" stroke="#000" stroke-width="0.9"/>
<rect x="382.11" y="246.9" width="3.8" height="16.85" fill="#fff" stroke="#000" stroke-width="1"/>
<line x1="389.91" y1="251.35" x2="389.91" y2="252.5" stroke="#000" stroke-width="0.9"/>
<line x1="388.51" y1="251.35" x2="391.31" y2="251.35" stroke="#000" stroke-width="0.9"/>
<rect x="388.01" y="252.5" width="3.8" height="11.25" fill="#fff" stroke="#000" stroke-width="1"/>
<line x1="395.81" y1="228" x2="395.81" y2="231.7" stroke="#000" stroke-width="0.9"/>
<line x1="394.21" y1="228" x2="397.41" y2="228" stroke="#000" stroke-width="0.9"/>
<rect x="393.41" y="231.2" width="4.8" height="32.55" fill="#000"/>
<line x1="401.71" y1="229.3" x2="401.71" y2="235.5" stroke="#000" stroke-width="0.9"/>
<line x1="400.11" y1="229.3" x2="403.31" y2="229.3" stroke="#000" stroke-width="0.9"/>
<rect x="399.31" y="235" width="4.8" height="28.75" fill="#000"/>
<line x1="439.37" y1="257.05" x2="439.37" y2="258.2" stroke="#000" stroke-width="0.9"/>
<line x1="437.97" y1="257.05" x2="440.77" y2="257.05" stroke="#000" stroke-width="0.9"/>
<rect x="437.47" y="258.2" width="3.8" height="5.55" fill="#fff" stroke="#000" stroke-width="1"/>
<line x1="445.27" y1="248.95" x2="445.27" y2="250.1" stroke="#000" stroke-width="0.9"/>
<line x1="443.87" y1="248.95" x2="446.67" y2="248.95" stroke="#000" stroke-width="0.9"/>
<rect x="443.37" y="250.1" width="3.8" height="13.65" fill="#fff" stroke="#000" stroke-width="1"/>
<line x1="451.17" y1="244" x2="451.17" y2="246.4" stroke="#000" stroke-width="0.9"/>
<line x1="449.57" y1="244" x2="452.77" y2="244" stroke="#000" stroke-width="0.9"/>
<rect x="448.77" y="245.9" width="4.8" height="17.85" fill="#000"/>
<line x1="457.07" y1="241.45" x2="457.07" y2="242.6" stroke="#000" stroke-width="0.9"/>
<line x1="455.67" y1="241.45" x2="458.47" y2="241.45" stroke="#000" stroke-width="0.9"/>
<rect x="454.67" y="242.1" width="4.8" height="21.65" fill="#000"/>
<line x1="467.05" y1="254.25" x2="467.05" y2="255.4" stroke="#000" stroke-width="0.9"/>
<line x1="465.65" y1="254.25" x2="468.45" y2="254.25" stroke="#000" stroke-width="0.9"/>
<rect x="465.15" y="255.4" width="3.8" height="8.35" fill="#fff" stroke="#000" stroke-width="1"/>
<line x1="472.95" y1="246.45" x2="472.95" y2="247.6" stroke="#000" stroke-width="0.9"/>
<line x1="471.55" y1="246.45" x2="474.35" y2="246.45" stroke="#000" stroke-width="0.9"/>
<rect x="471.05" y="247.6" width="3.8" height="16.15" fill="#fff" stroke="#000" stroke-width="1"/>
<line x1="478.85" y1="182.2" x2="478.85" y2="188" stroke="#000" stroke-width="0.9"/>
<line x1="477.25" y1="182.2" x2="480.45" y2="182.2" stroke="#000" stroke-width="0.9"/>
<rect x="476.45" y="187.5" width="4.8" height="76.25" fill="#000"/>
<line x1="484.75" y1="237.95" x2="484.75" y2="239.1" stroke="#000" stroke-width="0.9"/>
<line x1="483.35" y1="237.95" x2="486.15" y2="237.95" stroke="#000" stroke-width="0.9"/>
<rect x="482.35" y="238.6" width="4.8" height="25.15" fill="#000"/>
<line x1="494.73" y1="251.85" x2="494.73" y2="253" stroke="#000" stroke-width="0.9"/>
<line x1="493.33" y1="251.85" x2="496.13" y2="251.85" stroke="#000" stroke-width="0.9"/>
<rect x="492.83" y="253" width="3.8" height="10.75" fill="#fff" stroke="#000" stroke-width="1"/>
<line x1="500.63" y1="245.5" x2="500.63" y2="248.9" stroke="#000" stroke-width="0.9"/>
<line x1="499.03" y1="245.5" x2="502.23" y2="245.5" stroke="#000" stroke-width="0.9"/>
<rect x="498.73" y="248.9" width="3.8" height="14.85" fill="#fff" stroke="#000" stroke-width="1"/>
<line x1="506.53" y1="190.4" x2="506.53" y2="196.9" stroke="#000" stroke-width="0.9"/>
<line x1="504.93" y1="190.4" x2="508.13" y2="190.4" stroke="#000" stroke-width="0.9"/>
<rect x="504.13" y="196.4" width="4.8" height="67.35" fill="#000"/>
<line x1="512.43" y1="228" x2="512.43" y2="232.9" stroke="#000" stroke-width="0.9"/>
<line x1="510.83" y1="228" x2="514.03" y2="228" stroke="#000" stroke-width="0.9"/>
<rect x="510.03" y="232.4" width="4.8" height="31.35" fill="#000"/>
<line x1="323.7" y1="179.1" x2="323.7" y2="264.35" stroke="#000" stroke-width="1.3"/>
<line x1="320.7" y1="263.75" x2="518.8" y2="263.75" stroke="#000" stroke-width="1.3"/>
<line x1="320.7" y1="263.75" x2="323.7" y2="263.75" stroke="#000" stroke-width="1"/>
<text transform="translate(319.9 266.2)" font-size="6.9" text-anchor="end" fill="#000">0</text>
<line x1="320.7" y1="235.77" x2="323.7" y2="235.77" stroke="#000" stroke-width="1"/>
<text transform="translate(319.9 238.22)" font-size="6.9" text-anchor="end" fill="#000">1.0x10<tspan font-size="4" dy="-2.7">4</tspan></text>
<line x1="320.7" y1="207.79" x2="323.7" y2="207.79" stroke="#000" stroke-width="1"/>
<text transform="translate(319.9 210.24)" font-size="6.9" text-anchor="end" fill="#000">2.0x10<tspan font-size="4" dy="-2.7">4</tspan></text>
<line x1="320.7" y1="179.81" x2="323.7" y2="179.81" stroke="#000" stroke-width="1"/>
<text transform="translate(319.9 182.26)" font-size="6.9" text-anchor="end" fill="#000">3.0x10<tspan font-size="4" dy="-2.7">4</tspan></text>
<rect x="325.6" y="180.1" width="12.2" height="4.2" fill="#fff" stroke="#000" stroke-width="1"/>
<rect x="325.1" y="187.9" width="13.2" height="5.4" fill="#000"/>
<text transform="translate(339.7 184.5) scale(1.0678 1)" font-size="6.8" fill="#000">- IAV</text>
<text transform="translate(339.7 193.1) scale(1.0124 1)" font-size="6.8" fill="#000">+IAV</text>
<line x1="451.2" y1="165.2" x2="505.7" y2="165.2" stroke="#2b2b2b" stroke-width="0.9"/>
<line x1="451.2" y1="162.4" x2="451.2" y2="168" stroke="#2b2b2b" stroke-width="0.9"/>
<line x1="505.7" y1="162.4" x2="505.7" y2="168" stroke="#2b2b2b" stroke-width="0.9"/>
<text transform="translate(479.4 163.55)" font-size="7.1" text-anchor="middle" fill="#000">***</text>
<line x1="507.2" y1="165.2" x2="514.1" y2="165.2" stroke="#2b2b2b" stroke-width="0.9"/>
<line x1="507.2" y1="162.4" x2="507.2" y2="168" stroke="#2b2b2b" stroke-width="0.9"/>
<line x1="514.1" y1="162.4" x2="514.1" y2="168" stroke="#2b2b2b" stroke-width="0.9"/>
<text transform="translate(511 163.55)" font-size="7.1" text-anchor="middle" fill="#000">**</text>
<line x1="451.2" y1="175.2" x2="479" y2="175.2" stroke="#2b2b2b" stroke-width="0.9"/>
<line x1="451.2" y1="172.4" x2="451.2" y2="178" stroke="#2b2b2b" stroke-width="0.9"/>
<line x1="479" y1="172.4" x2="479" y2="178" stroke="#2b2b2b" stroke-width="0.9"/>
<text transform="translate(466 174.05)" font-size="7.1" text-anchor="middle" fill="#000">***</text>
<line x1="480.4" y1="175.2" x2="487.5" y2="175.2" stroke="#2b2b2b" stroke-width="0.9"/>
<line x1="480.4" y1="172.4" x2="480.4" y2="178" stroke="#2b2b2b" stroke-width="0.9"/>
<line x1="487.5" y1="172.4" x2="487.5" y2="178" stroke="#2b2b2b" stroke-width="0.9"/>
<text transform="translate(484 174.05)" font-size="7.1" text-anchor="middle" fill="#000">***</text>
<text transform="translate(318.9 276.3) scale(1.0585 1)" font-size="7.6" text-anchor="end" fill="#000">anti-Fc<tspan font-size="6" dy="1.1">γ</tspan><tspan dy="-1.1">RIIA</tspan></text>
<text transform="translate(318.9 285.8) scale(1.0413 1)" font-size="7.6" text-anchor="end" fill="#000">3% serum</text>
<text transform="translate(329 275.7)" font-size="6.8" text-anchor="middle" font-weight="bold" fill="#000">-</text>
<text transform="translate(334.8 276.3)" font-size="6.6" text-anchor="middle" font-weight="bold" fill="#000">+</text>
<text transform="translate(341.1 275.7)" font-size="6.8" text-anchor="middle" font-weight="bold" fill="#000">-</text>
<text transform="translate(347 276.3)" font-size="6.6" text-anchor="middle" font-weight="bold" fill="#000">+</text>
<line x1="326.5" y1="277.9" x2="349" y2="277.9" stroke="#222" stroke-width="1.3"/>
<text transform="translate(338.1 286.1)" font-size="6.5" text-anchor="middle" fill="#000">Naive</text>
<text transform="translate(356.67 275.7)" font-size="6.8" text-anchor="middle" font-weight="bold" fill="#000">-</text>
<text transform="translate(362.47 276.3)" font-size="6.6" text-anchor="middle" font-weight="bold" fill="#000">+</text>
<text transform="translate(368.77 275.7)" font-size="6.8" text-anchor="middle" font-weight="bold" fill="#000">-</text>
<text transform="translate(374.67 276.3)" font-size="6.6" text-anchor="middle" font-weight="bold" fill="#000">+</text>
<line x1="354.17" y1="277.9" x2="376.67" y2="277.9" stroke="#222" stroke-width="1.3"/>
<text transform="translate(365.77 286.1)" font-size="6.5" text-anchor="middle" fill="#000">H<tspan font-size="4.6" dy="1.3">1</tspan><tspan dy="-1.3">N</tspan><tspan font-size="4.6" dy="1.3">1</tspan></text>
<text transform="translate(384.34 275.7)" font-size="6.8" text-anchor="middle" font-weight="bold" fill="#000">-</text>
<text transform="translate(390.14 276.3)" font-size="6.6" text-anchor="middle" font-weight="bold" fill="#000">+</text>
<text transform="translate(396.44 275.7)" font-size="6.8" text-anchor="middle" font-weight="bold" fill="#000">-</text>
<text transform="translate(402.34 276.3)" font-size="6.6" text-anchor="middle" font-weight="bold" fill="#000">+</text>
<line x1="381.84" y1="277.9" x2="404.34" y2="277.9" stroke="#222" stroke-width="1.3"/>
<text transform="translate(393.44 286.1)" font-size="6.5" text-anchor="middle" fill="#000">H<tspan font-size="4.6" dy="1.3">3</tspan><tspan dy="-1.3">N</tspan><tspan font-size="4.6" dy="1.3">2</tspan></text>
<text transform="translate(439.68 275.7)" font-size="6.8" text-anchor="middle" font-weight="bold" fill="#000">-</text>
<text transform="translate(445.48 276.3)" font-size="6.6" text-anchor="middle" font-weight="bold" fill="#000">+</text>
<text transform="translate(451.78 275.7)" font-size="6.8" text-anchor="middle" font-weight="bold" fill="#000">-</text>
<text transform="translate(457.68 276.3)" font-size="6.6" text-anchor="middle" font-weight="bold" fill="#000">+</text>
<line x1="437.18" y1="277.9" x2="459.68" y2="277.9" stroke="#222" stroke-width="1.3"/>
<text transform="translate(448.78 286.1)" font-size="6.5" text-anchor="middle" fill="#000">Naive</text>
<text transform="translate(467.35 275.7)" font-size="6.8" text-anchor="middle" font-weight="bold" fill="#000">-</text>
<text transform="translate(473.15 276.3)" font-size="6.6" text-anchor="middle" font-weight="bold" fill="#000">+</text>
<text transform="translate(479.45 275.7)" font-size="6.8" text-anchor="middle" font-weight="bold" fill="#000">-</text>
<text transform="translate(485.35 276.3)" font-size="6.6" text-anchor="middle" font-weight="bold" fill="#000">+</text>
<line x1="464.85" y1="277.9" x2="487.35" y2="277.9" stroke="#222" stroke-width="1.3"/>
<text transform="translate(476.45 286.1)" font-size="6.5" text-anchor="middle" fill="#000">H<tspan font-size="4.6" dy="1.3">1</tspan><tspan dy="-1.3">N</tspan><tspan font-size="4.6" dy="1.3">1</tspan></text>
<text transform="translate(495.02 275.7)" font-size="6.8" text-anchor="middle" font-weight="bold" fill="#000">-</text>
<text transform="translate(500.82 276.3)" font-size="6.6" text-anchor="middle" font-weight="bold" fill="#000">+</text>
<text transform="translate(507.12 275.7)" font-size="6.8" text-anchor="middle" font-weight="bold" fill="#000">-</text>
<text transform="translate(513.02 276.3)" font-size="6.6" text-anchor="middle" font-weight="bold" fill="#000">+</text>
<line x1="492.52" y1="277.9" x2="515.02" y2="277.9" stroke="#222" stroke-width="1.3"/>
<text transform="translate(504.12 286.1)" font-size="6.5" text-anchor="middle" fill="#000">H<tspan font-size="4.6" dy="1.3">3</tspan><tspan dy="-1.3">N</tspan><tspan font-size="4.6" dy="1.3">2</tspan></text>
<line x1="326.5" y1="289.8" x2="405.24" y2="289.8" stroke="#222" stroke-width="1.3"/>
<text transform="translate(366.55 300.9) scale(1.0101 1)" font-size="6.6" text-anchor="middle" fill="#000">WT platelets</text>
<line x1="437.18" y1="289.8" x2="515.92" y2="289.8" stroke="#222" stroke-width="1.3"/>
<text transform="translate(476.4 300.9) scale(1.0258 1)" font-size="6.6" text-anchor="middle" fill="#000">Tg-Fc<tspan font-size="5.4" dy="1">γ</tspan><tspan dy="-1">RIIA platelets</tspan></text>
<text transform="translate(274 221.4) rotate(-90) scale(0.9618 1)" font-size="9.6" text-anchor="middle" fill="#000">Platelet MPs</text>
<text transform="translate(287.4 221.4) rotate(-90) scale(0.9563 1)" font-size="9.6" text-anchor="middle" fill="#000">(CMFDA<tspan font-size="6.6" dy="-4.3">+</tspan><tspan dy="4.3"> MPs/µl)</tspan></text>
<text transform="translate(267.4 166.8) scale(1.0487 1)" font-size="10.3" font-weight="bold" fill="#000">C</text>
</svg>
</body>
</html>
